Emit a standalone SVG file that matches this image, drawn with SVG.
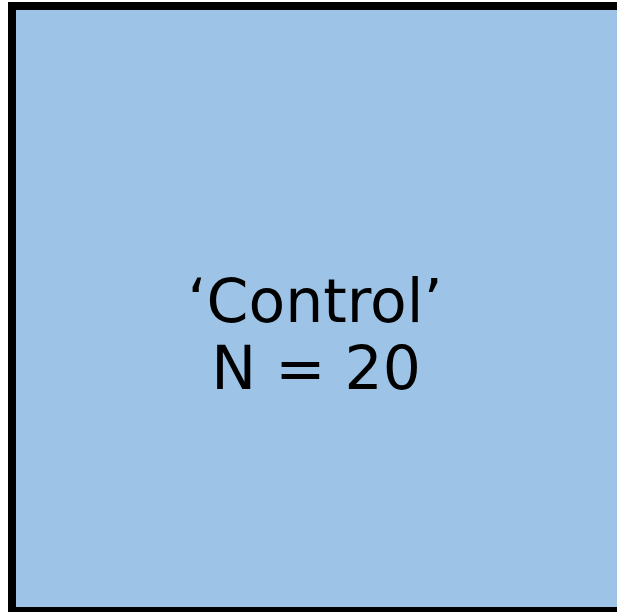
<svg xmlns="http://www.w3.org/2000/svg" width="617" height="612" viewBox="0 0 617 612">
<style>
.box{fill:#9DC3E6;stroke:#000;stroke-width:8}
.lbl{font-family:"DejaVu Sans",sans-serif;font-size:60px;fill:#000;text-anchor:middle}
</style>
<g id="control">
<rect class="box" x="12" y="6" width="620" height="605"/>
<text class="lbl" x="315" y="322">‘Control’</text>
<text class="lbl" x="316" y="389">N = 20</text>
</g>
<g id="connectors"/>
</svg>
